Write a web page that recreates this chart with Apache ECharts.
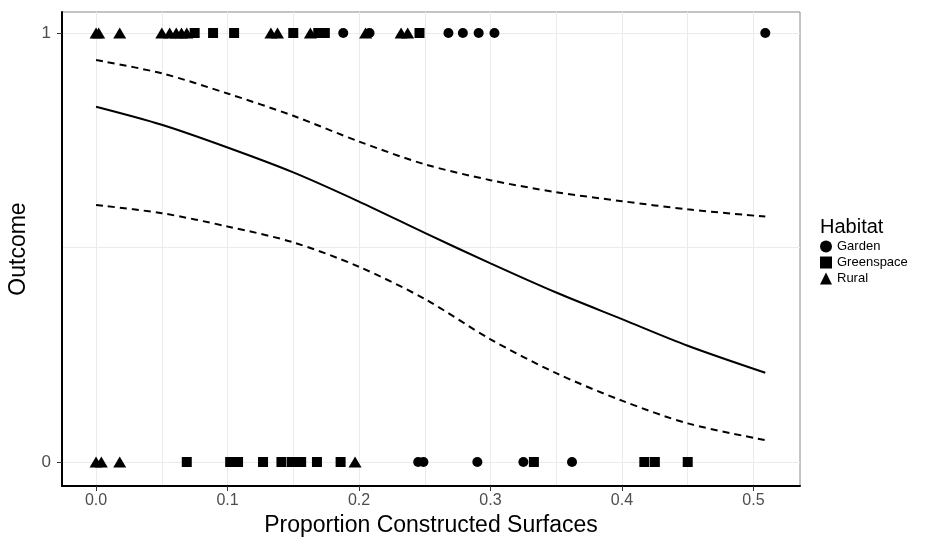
<!DOCTYPE html>
<html>
<head>
<meta charset="utf-8">
<script src="https://cdn.jsdelivr.net/npm/echarts@6/dist/echarts.min.js"></script>
<style>
html,body{margin:0;padding:0;background:#fff;}
#chart{width:935px;height:537px;}
</style>
</head>
<body>
<div id="chart"></div>
<script>
// ---- data ----
const gardenTop = [0.188, 0.208, 0.268, 0.279, 0.291, 0.303, 0.509];
const greenTop = [0.075, 0.089, 0.105, 0.150, 0.169, 0.174, 0.246];
const ruralTop = [0.000, 0.002, 0.018, 0.050, 0.056, 0.061, 0.065, 0.069, 0.133, 0.138, 0.163, 0.205, 0.232, 0.237];
const gardenBottom = [0.245, 0.249, 0.290, 0.325, 0.362];
const greenBottom = [0.069, 0.102, 0.108, 0.127, 0.141, 0.149, 0.156, 0.168, 0.186, 0.333, 0.417, 0.425, 0.450];
const ruralBottom = [0.000, 0.004, 0.018, 0.197];

const curveX = [0, 0.05, 0.1, 0.15, 0.2, 0.25, 0.3, 0.35, 0.4, 0.45, 0.509];
const fitY   = [0.828, 0.786, 0.733, 0.675, 0.607, 0.534, 0.463, 0.395, 0.333, 0.271, 0.208];
const upperY = [0.937, 0.906, 0.859, 0.807, 0.747, 0.694, 0.657, 0.629, 0.608, 0.589, 0.572];
const lowerY = [0.599, 0.580, 0.549, 0.512, 0.455, 0.380, 0.286, 0.207, 0.143, 0.090, 0.051];

const xTicks = [0, 0.1, 0.2, 0.3, 0.4, 0.5];
const xMinorGrid = [0.05, 0.15, 0.25, 0.35, 0.45];
const yTicks = [0, 1];
const yMinorGrid = [0.5];
const habitats = ['Garden', 'Greenspace', 'Rural'];

// ---- build ----
const FONT = "'Liberation Sans', Arial, sans-serif";
const pts = (top, bottom) => top.map(x => [x, 1]).concat(bottom.map(x => [x, 0]));
const line = (ys) => curveX.map((x, i) => [x, ys[i]]);

const xMin = -0.0259, xMax = 0.5354, yMin = -0.056, yMax = 1.049;
const gridColor = '#ebebeb';

const chart = echarts.init(document.getElementById('chart'), null, {renderer: 'canvas'});
chart.setOption({
  animation: false,
  backgroundColor: '#fff',
  textStyle: {fontFamily: FONT},
  title: {
    text: 'Habitat', left: 815, top: 212,
    textStyle: {fontFamily: FONT, fontSize: 20, fontWeight: 'normal', color: '#000'}
  },
  legend: {
    orient: 'vertical', left: 815, top: 235,
    itemWidth: 12, itemHeight: 12, itemGap: 3,
    textStyle: {fontFamily: FONT, fontSize: 13, color: '#000', padding: [0, 0, 0, 0]},
    data: [
      {name: habitats[0], icon: 'circle'},
      {name: habitats[1], icon: 'rect'},
      {name: habitats[2], icon: 'triangle'}
    ]
  },
  grid: {
    left: 62, right: 135, top: 12, bottom: 51,
    containLabel: false, outerBoundsMode: 'none',
    show: true, borderColor: '#888', borderWidth: 1, backgroundColor: 'transparent'
  },
  xAxis: [{
    type: 'value', min: xMin, max: xMax,
    name: 'Proportion Constructed Surfaces', nameLocation: 'middle', nameGap: 28,
    nameTextStyle: {fontFamily: FONT, fontSize: 23, color: '#000'},
    axisLine: {show: true, onZero: false, lineStyle: {color: '#000', width: 2}},
    axisTick: {show: true, length: 5, customValues: xTicks, lineStyle: {color: '#333'}},
    axisLabel: {customValues: xTicks, formatter: v => v.toFixed(1), fontFamily: FONT, fontSize: 16, color: '#4d4d4d', margin: 7},
    splitLine: {show: true, lineStyle: {color: gridColor, width: 1}}
  }, {
    type: 'value', min: xMin, max: xMax, position: 'bottom',
    axisLine: {show: false}, axisLabel: {show: false},
    axisTick: {show: false, customValues: xMinorGrid},
    splitLine: {show: true, lineStyle: {color: gridColor, width: 1}}
  }],
  yAxis: [{
    type: 'value', min: yMin, max: yMax,
    name: 'Outcome', nameLocation: 'middle', nameGap: 28,
    nameTextStyle: {fontFamily: FONT, fontSize: 23, color: '#000'},
    axisLine: {show: true, onZero: false, lineStyle: {color: '#000', width: 2}},
    axisTick: {show: true, length: 5, customValues: yTicks, lineStyle: {color: '#333'}},
    axisLabel: {customValues: yTicks, fontFamily: FONT, fontSize: 17, color: '#4d4d4d', margin: 11},
    splitLine: {show: true, lineStyle: {color: gridColor, width: 1}}
  }, {
    type: 'value', min: yMin, max: yMax, position: 'left',
    axisLine: {show: false}, axisLabel: {show: false},
    axisTick: {show: false, customValues: yMinorGrid},
    splitLine: {show: true, lineStyle: {color: gridColor, width: 1}}
  }],
  series: [
    {name: 'fit', type: 'line', data: line(fitY), showSymbol: false, smooth: 0.3,
     lineStyle: {color: '#000', width: 2}, silent: true, z: 3},
    {name: 'upper', type: 'line', data: line(upperY), showSymbol: false, smooth: 0.3,
     lineStyle: {color: '#000', width: 2, type: [7, 5]}, silent: true, z: 3},
    {name: 'lower', type: 'line', data: line(lowerY), showSymbol: false, smooth: 0.3,
     lineStyle: {color: '#000', width: 2, type: [7, 5]}, silent: true, z: 3},
    {name: habitats[0], type: 'scatter', data: pts(gardenTop, gardenBottom),
     symbol: 'circle', symbolSize: 10, itemStyle: {color: '#000', opacity: 1}, z: 4},
    {name: habitats[1], type: 'scatter', data: pts(greenTop, greenBottom),
     symbol: 'rect', symbolSize: 10, itemStyle: {color: '#000', opacity: 1}, z: 4},
    {name: habitats[2], type: 'scatter', data: pts(ruralTop, ruralBottom),
     symbol: 'triangle', symbolSize: [13, 11], itemStyle: {color: '#000', opacity: 1}, z: 4}
  ]
});
</script>
</body>
</html>
